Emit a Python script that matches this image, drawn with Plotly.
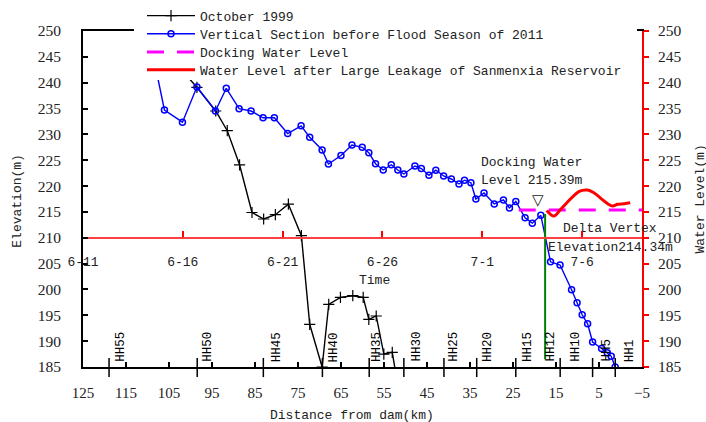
import plotly.graph_objects as go

# ---------------- data ----------------
# October 1999 longitudinal section (distance from dam km, elevation m)
oct1999_km = [110.5, 98.51, 94.13, 91.45, 88.59, 85.70, 82.99, 80.27, 77.24, 74.21,
              72.28, 69.39, 67.85, 65.13, 62.26, 59.84, 58.53, 56.81, 55.04, 53.08, 52.0]
oct1999_elev = [250.3, 239.11, 234.52, 230.71, 224.12, 214.89, 213.63, 214.46, 216.49, 210.40,
                193.26, 185.0, 197.13, 198.48, 198.79, 198.48, 194.23, 194.87, 187.51, 187.84, 182.5]

# Vertical section before flood season of 2011
sec2011_km = [110.0, 106.06, 101.87, 98.51, 94.20, 91.68, 88.70, 85.91, 83.13, 80.50,
              77.40, 74.28, 72.28, 69.39, 67.92, 65.01, 62.45, 60.07, 58.53, 56.97,
              55.18, 53.31, 51.78, 50.38, 47.81, 46.32, 44.55, 42.95, 41.13, 39.34,
              37.56, 36.28, 34.79, 33.63, 31.74, 29.36, 27.22, 25.82, 24.35, 22.19,
              20.51, 18.53, 16.27, 14.06, 11.38, 10.10, 8.91, 7.65, 6.49, 4.39,
              3.08, 2.15, 1.24]
sec2011_elev = [250.5, 234.72, 232.36, 239.17, 234.52, 238.92, 234.97, 234.52, 233.21, 233.21,
                230.17, 231.66, 229.46, 226.98, 224.27, 225.92, 227.95, 227.50, 226.46, 224.33,
                223.11, 224.12, 223.11, 222.34, 223.88, 223.40, 222.08, 223.07, 221.95, 221.37,
                220.40, 221.14, 220.65, 217.50, 218.66, 216.53, 217.31, 215.76, 217.02, 213.86,
                212.82, 214.34, 205.35, 204.73, 199.95, 197.44, 195.10, 193.36, 189.84, 188.58,
                187.77, 187.07, 185.0]

# Docking water level
docking_km = [23.66, -5.0]
docking_level = [215.39, 215.39]

# Water level after large leakage of Sanmenxia Reservoir (time, m)
leak_time = ["2011-07-04 05:30", "2011-07-04 14:00", "2011-07-04 22:20", "2011-07-05 06:30",
             "2011-07-05 14:30", "2011-07-05 20:30", "2011-07-06 06:30", "2011-07-06 13:40",
             "2011-07-06 22:30", "2011-07-07 06:45", "2011-07-07 12:45", "2011-07-07 18:45",
             "2011-07-08 02:40", "2011-07-08 09:50"]
leak_level = [215.27, 214.21, 215.51, 216.92, 218.18, 218.99, 219.24, 218.76,
              217.63, 216.59, 216.14, 216.47, 216.59, 216.78]

# Delta vertex marker line
vertex_km = [17.53, 17.53]
vertex_elev = [186.5, 214.6]

# Section labels
hh_labels = ["HH55", "HH50", "HH45", "HH40", "HH35", "HH30", "HH25", "HH20",
             "HH15", "HH12", "HH10", "HH5", "HH1"]
hh_label_km = [116.19, 95.99, 79.80, 66.52, 56.62, 47.42, 38.80, 30.83,
               21.51, 16.27, 10.38, 3.11, -2.37]
hh_tick_km = [118.94, 98.44, 83.06, 69.32, 58.44, 50.38, 41.06, 33.44,
              24.35, 14.03, 6.49, 1.22]

time_tickvals = ["2011-06-11", "2011-06-16", "2011-06-21", "2011-06-26", "2011-07-01", "2011-07-06"]
time_ticktext = ["6-11", "6-16", "6-21", "6-26", "7-1", "7-6"]

# ---------------- figure ----------------
MONO = "Liberation Mono"
SERIF = "Liberation Serif"
W, H = 706, 422
L, R, T, B = 83, 64, 31, 55
PW, PH = W - L - R, H - T - B


def px_x(p):
    return (p - L) / PW


def px_y(p):
    return (H - B - p) / PH


fig = go.Figure()
fig.add_trace(go.Scatter(
    x=oct1999_km, y=oct1999_elev, mode="lines+markers", name="October 1999", legend="legend",
    line=dict(color="black", width=1.4),
    marker=dict(symbol="cross-thin-open", size=8, line=dict(color="black", width=1.2))))
fig.add_trace(go.Scatter(
    x=sec2011_km, y=sec2011_elev, mode="lines+markers", legend="legend2",
    name="Vertical Section before Flood Season of 2011",
    line=dict(color="#0000ff", width=1.4),
    marker=dict(symbol="circle-open", size=6, color="#0000ff", line=dict(color="#0000ff", width=1.5))))
fig.add_trace(go.Scatter(
    x=docking_km, y=docking_level, mode="lines", name="Docking Water Level", legend="legend3",
    line=dict(color="#ff00ff", width=3, dash="17px,13px")))
fig.add_trace(go.Scatter(
    x=leak_time, y=leak_level, mode="lines", xaxis="x2", yaxis="y2", legend="legend4",
    name="Water Level after Large Leakage of Sanmenxia Reservoir",
    line=dict(color="#ff0000", width=3, shape="spline")))
fig.add_trace(go.Scatter(
    x=vertex_km, y=vertex_elev, mode="lines", showlegend=False,
    line=dict(color="#008000", width=2)))

# white box behind the legend (it hides the lines and the top frame there)
shapes = [dict(type="rect", xref="paper", yref="paper", layer="above",
               x0=px_x(134), x1=px_x(637), y0=px_y(80), y1=px_y(0),
               fillcolor="white", line=dict(width=0))]
for k in hh_tick_km:
    shapes.append(dict(type="line", xref="x", yref="paper", x0=k, x1=k, y0=-0.03, y1=0.027,
                       line=dict(color="black", width=1.5)))

annotations = []
for lab, k in zip(hh_labels, hh_label_km):
    annotations.append(dict(x=k, y=0.009, xref="x", yref="paper", text=lab, textangle=-90,
                            showarrow=False, xanchor="center", yanchor="bottom",
                            font=dict(family=MONO, size=12.5, color="black")))


def txt(x, y, s, xref="x", yref="y", xanchor="left", angle=0, size=13, family=MONO):
    annotations.append(dict(x=x, y=y, xref=xref, yref=yref, text=s, showarrow=False,
                            xanchor=xanchor, yanchor="middle", textangle=angle,
                            font=dict(family=family, size=size, color="#222")))


txt(32.8, 224.6, "Docking Water")
txt(32.8, 221.04, "Level 215.39m")
txt(19.3, 217.4, "▽", xanchor="center", size=15, family="DejaVu Sans")
txt(13.87, 211.83, "Delta Vertex")
txt(17.37, 208.16, "Elevation214.34m")
txt(px_x(374), px_y(280.5), "Time", xref="paper", yref="paper", xanchor="center")
txt(px_x(352), px_y(415), "Distance from dam(km)", xref="paper", yref="paper", xanchor="center")
txt(px_x(16.7), px_y(201), "Elevation(m)", xref="paper", yref="paper", xanchor="center", angle=-90)
txt(px_x(699.5), px_y(199), "Water Level(m)", xref="paper", yref="paper", xanchor="center", angle=-90)

legend_rows = [15.7, 33.8, 52.0, 69.8]
legend_common = dict(x=px_x(142), xanchor="left", yanchor="middle",
                     bgcolor="rgba(0,0,0,0)", borderwidth=0, itemwidth=48,
                     font=dict(family=MONO, size=13, color="#222"))

fig.update_layout(
    width=W, height=H,
    margin=dict(l=L, r=R, t=T, b=B, autoexpand=False),
    paper_bgcolor="white", plot_bgcolor="white",
    showlegend=True,
    legend=dict(y=px_y(legend_rows[0]), **legend_common),
    legend2=dict(y=px_y(legend_rows[1]), **legend_common),
    legend3=dict(y=px_y(legend_rows[2]), **legend_common),
    legend4=dict(y=px_y(legend_rows[3]), **legend_common),
    xaxis=dict(range=[125, -5], autorange=False, tick0=125, dtick=10,
               showline=True, linecolor="black", linewidth=2, mirror=True,
               ticks="inside", ticklen=5, tickwidth=1.5, tickcolor="black",
               tickfont=dict(family=SERIF, size=15, color="#222"),
               ticklabelstandoff=11, showgrid=False, zeroline=False),
    yaxis=dict(range=[185, 250], autorange=False, tick0=185, dtick=5,
               showline=True, linecolor="black", linewidth=2,
               ticks="inside", ticklen=5, tickwidth=1.5, tickcolor="black",
               tickfont=dict(family=SERIF, size=15.5, color="#222"),
               ticklabelstandoff=17, showgrid=False, zeroline=False),
    yaxis2=dict(range=[185, 250], autorange=False, tick0=185, dtick=5,
                overlaying="y", side="right",
                showline=True, linecolor="#ff0000", linewidth=2,
                ticks="outside", ticklen=5, tickwidth=1.5, tickcolor="#ff0000",
                tickfont=dict(family=SERIF, size=15.5, color="#222"),
                ticklabelstandoff=6, showgrid=False, zeroline=False),
    xaxis2=dict(type="date", range=["2011-06-11", "2011-07-09"], autorange=False,
                overlaying="x", anchor="free", position=(210 - 185) / (250 - 185), side="bottom",
                showline=True, linecolor="#ff4040", linewidth=1.5,
                ticks="inside", ticklen=6, tickwidth=1.5, tickcolor="#ff0000",
                tickvals=time_tickvals, ticktext=time_ticktext,
                tickfont=dict(family=MONO, size=13, color="#222"),
                ticklabelstandoff=12, showgrid=False, zeroline=False),
    shapes=shapes,
    annotations=annotations,
)

fig.write_html("out.html", config={"displayModeBar": False},
               post_script="document.body.style.margin='0';document.body.style.overflow='hidden';")
